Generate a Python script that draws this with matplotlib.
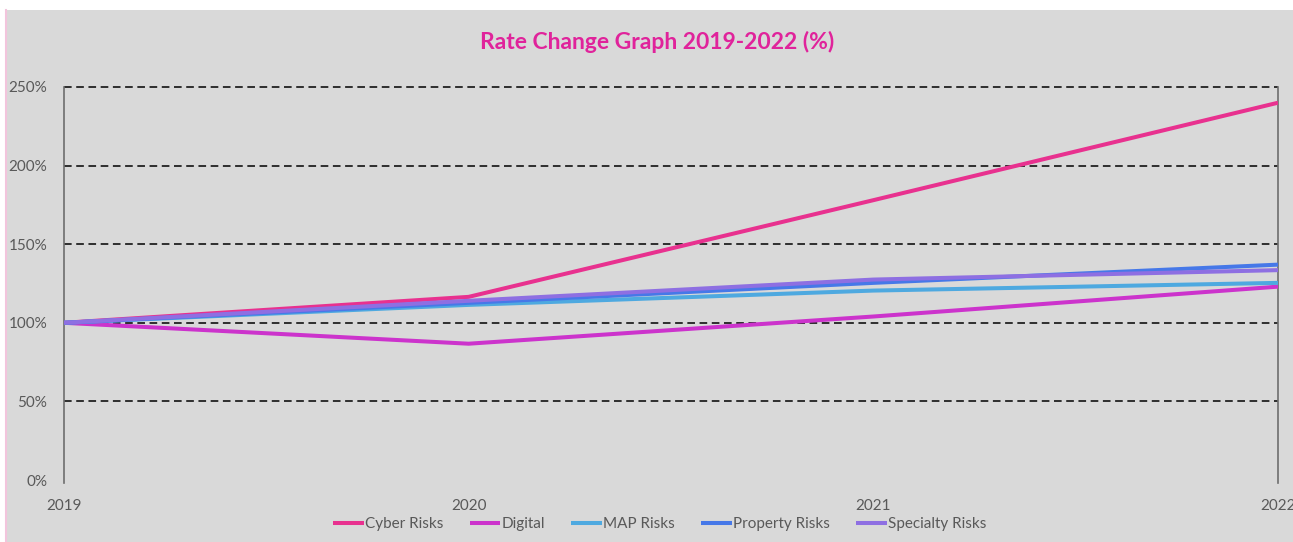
import matplotlib
matplotlib.use("Agg")
import matplotlib.pyplot as plt
from matplotlib.patches import Rectangle
from matplotlib.lines import Line2D
from matplotlib.ticker import FuncFormatter

plt.rcParams['font.family'] = ['Lato', 'DejaVu Sans']

# data (rate index, 2019 = 100%)
years = [2019, 2020, 2021, 2022]
cyber = [100, 116.5, 178, 240]
digital = [100, 86.7, 104, 123]
map_risks = [100, 111.4, 120.5, 125.4]
property_risks = [100, 112.7, 125.4, 137]
specialty = [100, 114, 127.5, 133.5]

series = [
    ("Cyber Risks", cyber, "#E8318F"),
    ("Digital", digital, "#CC33CC"),
    ("MAP Risks", map_risks, "#4EA9E0"),
    ("Property Risks", property_risks, "#4678E8"),
    ("Specialty Risks", specialty, "#8E6FE2"),
]
y_ticks = [0, 50, 100, 150, 200, 250]

W, H = 1293, 542
fig = plt.figure(figsize=(W / 100, H / 100), dpi=100)
fig.patch.set_facecolor("white")

# grey chart panel + thin pink left border
fig.add_artist(Rectangle((6 / W, 0), 1 - 6 / W, (H - 10) / H,
                         transform=fig.transFigure, facecolor="#D9D9D9",
                         edgecolor="none", zorder=0))
fig.add_artist(Line2D([5.5 / W, 5.5 / W], [0, (H - 10) / H],
                      transform=fig.transFigure, color="#F2C4DC", lw=1.5))

ax = fig.add_axes([64 / W, 62 / H, (1278 - 64) / W, (480 - 87) / H])
ax.set_facecolor("none")

for name, vals, col in series:
    ax.plot(years, vals, color=col, lw=2.9, label=name, solid_capstyle="butt", zorder=3)

ax.set_xlim(2019, 2022)
ax.set_ylim(0, 250)
ax.set_xticks(years)
ax.set_yticks(y_ticks)
ax.yaxis.set_major_formatter(FuncFormatter(lambda v, p: f"{v:.0f}%"))

# dashed horizontal gridlines (none at 0%)
for v in y_ticks[1:]:
    ax.axhline(v, color="black", lw=1.1, ls=(0, (5, 3)), zorder=1, clip_on=False)

for s in ["top", "bottom"]:
    ax.spines[s].set_visible(False)
for s in ["left", "right"]:
    ax.spines[s].set_color("#6E6E6E")
    ax.spines[s].set_linewidth(1.2)
    ax.spines[s].set_bounds(-2, 250)

ax.tick_params(axis="both", length=0, colors="#595959", labelsize=11)
ax.tick_params(axis="y", pad=12)
ax.tick_params(axis="x", pad=14)

fig.text(657 / W, 1 - 42 / H, "Rate Change Graph 2019-2022 (%)", ha="center", va="center",
         fontsize=16.5, fontweight="bold", color="#E0239B")

leg = ax.legend(loc="center", bbox_to_anchor=(660 / W, 1 - 524 / H), bbox_transform=fig.transFigure,
                ncol=5, frameon=False, fontsize=11, handlelength=2.0, handletextpad=0.1,
                columnspacing=1.7, labelcolor="#595959")

plt.savefig("out.png", dpi=100, facecolor=fig.get_facecolor())
